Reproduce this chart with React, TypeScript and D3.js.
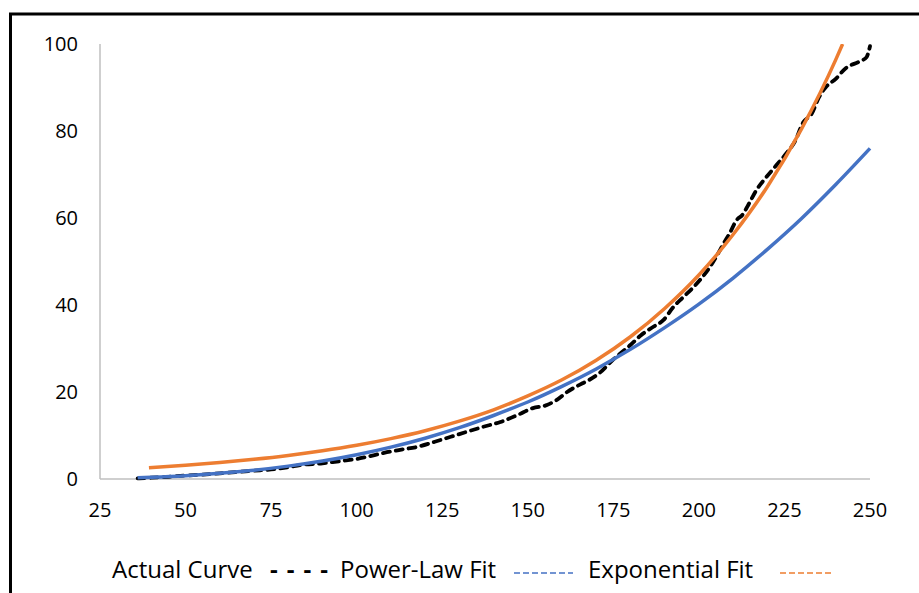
import React from 'react';
import * as d3 from 'd3';

// values
const actualX = [36, 40, 45, 50, 55, 60, 65, 70, 75, 80, 83.5, 90, 93, 97, 100, 103, 108, 112.7, 117.8, 122.6, 127.5, 132, 137, 142, 147, 151.5, 155.6, 158.5, 161.5, 166, 168, 171, 175, 180, 183, 186.7, 189.6, 192.5, 195.4, 198.3, 201, 203.2, 205, 207.5, 209, 211, 212.7, 214.7, 216.8, 219.7, 222.5, 225.7, 228, 230.5, 233, 235, 237, 240, 243, 247, 249, 250];
const actualY = [0.15, 0.3, 0.5, 0.8, 1.0, 1.3, 1.6, 1.9, 2.2, 2.7, 3.2, 3.6, 3.9, 4.3, 4.6, 5.1, 6.0, 6.7, 7.4, 8.5, 9.7, 10.8, 12.0, 13.1, 14.7, 16.3, 17.0, 18.2, 20.0, 22.0, 22.8, 24.4, 27.5, 30.8, 33.0, 35.0, 36.5, 39.5, 41.8, 44, 46.4, 48.7, 51, 54.5, 56.5, 59.5, 60.7, 63.4, 66.4, 69.4, 72, 75, 77.5, 82, 84, 87.6, 90, 92, 94.5, 96, 97, 99.5];

const powerX = [36, 40, 50, 60, 70, 80, 90, 100, 110, 120, 130, 140, 150, 160, 170, 180, 190, 200, 210, 220, 230, 240, 250];
const powerY = [0.3, 0.41, 0.77, 1.3, 2.02, 2.96, 4.13, 5.58, 7.32, 9.38, 11.8, 14.6, 17.7, 21.3, 25.3, 29.8, 34.8, 40.2, 46.2, 52.8, 59.9, 67.7, 76];

const expX = [39.3, 50, 60, 70, 80, 90, 100, 110, 120, 130, 140, 150, 160, 170, 180, 190, 200, 210, 220, 230, 240, 242];
const expY = [2.6, 3.15, 3.77, 4.52, 5.41, 6.48, 7.75, 9.28, 11.1, 13.3, 15.9, 19.1, 22.8, 27.3, 32.7, 39.2, 46.9, 56.2, 67.2, 80.5, 96.4, 100];

const xTicks = [25, 50, 75, 100, 125, 150, 175, 200, 225, 250];
const yTicks = [0, 20, 40, 60, 80, 100];

const W = 919;
const H = 593;
const font = '"Open Sans", Lato, sans-serif';

const x = d3.scaleLinear().domain([25, 250]).range([100, 870]);
const y = d3.scaleLinear().domain([0, 100]).range([479, 44]);

const line = d3
  .line<[number, number]>()
  .x(d => x(d[0]))
  .y(d => y(d[1]))
  .curve(d3.curveMonotoneX);

const zip = (xs: number[], ys: number[]) => xs.map((v, i) => [v, ys[i]] as [number, number]);

export default function App() {
  return (
    <svg width={W} height={H} style={{ position: 'absolute', left: 0, top: 0, background: '#fff' }}>
      <rect x={10.5} y={14} width={1000} height={1000} fill="none" stroke="#000" strokeWidth={3} />

      <line x1={x(25)} x2={x(25)} y1={y(100)} y2={y(0)} stroke="#bfbfbf" strokeWidth={1.5} />
      <line x1={x(25)} x2={x(250)} y1={y(0)} y2={y(0)} stroke="#bfbfbf" strokeWidth={1.5} />

      {yTicks.map(t => (
        <text key={'y' + t} x={78} y={y(t)} dy="0.36em" textAnchor="end" fontFamily={font} fontSize={20} fill="#000">
          {t}
        </text>
      ))}
      {xTicks.map(t => (
        <text key={'x' + t} x={x(t)} y={517} textAnchor="middle" fontFamily={font} fontSize={20} fill="#000">
          {t}
        </text>
      ))}

      <defs>
        <clipPath id="plot">
          <rect x={x(25)} y={y(100)} width={x(250) - x(25) + 5} height={y(0) - y(100) + 5} />
        </clipPath>
      </defs>
      <g clipPath="url(#plot)">
        <path d={line(zip(actualX, actualY)) || ''} fill="none" stroke="#000" strokeWidth={3.8} strokeDasharray="7 6" strokeLinecap="round" />
        <path d={line(zip(powerX, powerY)) || ''} fill="none" stroke="#4472c4" strokeWidth={3.5} />
        <path d={line(zip(expX, expY)) || ''} fill="none" stroke="#ed7d31" strokeWidth={3.5} />
      </g>

      <g fontFamily={font} fontSize={24} fill="#000">
        <text x={112} y={578}>Actual Curve</text>
        <text x={270} y={578} textLength={58} lengthAdjust="spacing" fontWeight="bold">- - - -</text>
        <text x={340} y={578}>Power-Law Fit</text>
        <text x={588} y={578}>Exponential Fit</text>
      </g>
      <line x1={514} x2={573} y1={573} y2={573} stroke="#4472c4" strokeWidth={1.5} strokeDasharray="6 3" />
      <line x1={780} x2={831} y1={573} y2={573} stroke="#ed7d31" strokeWidth={1.5} strokeDasharray="6 3" />
    </svg>
  );
}
